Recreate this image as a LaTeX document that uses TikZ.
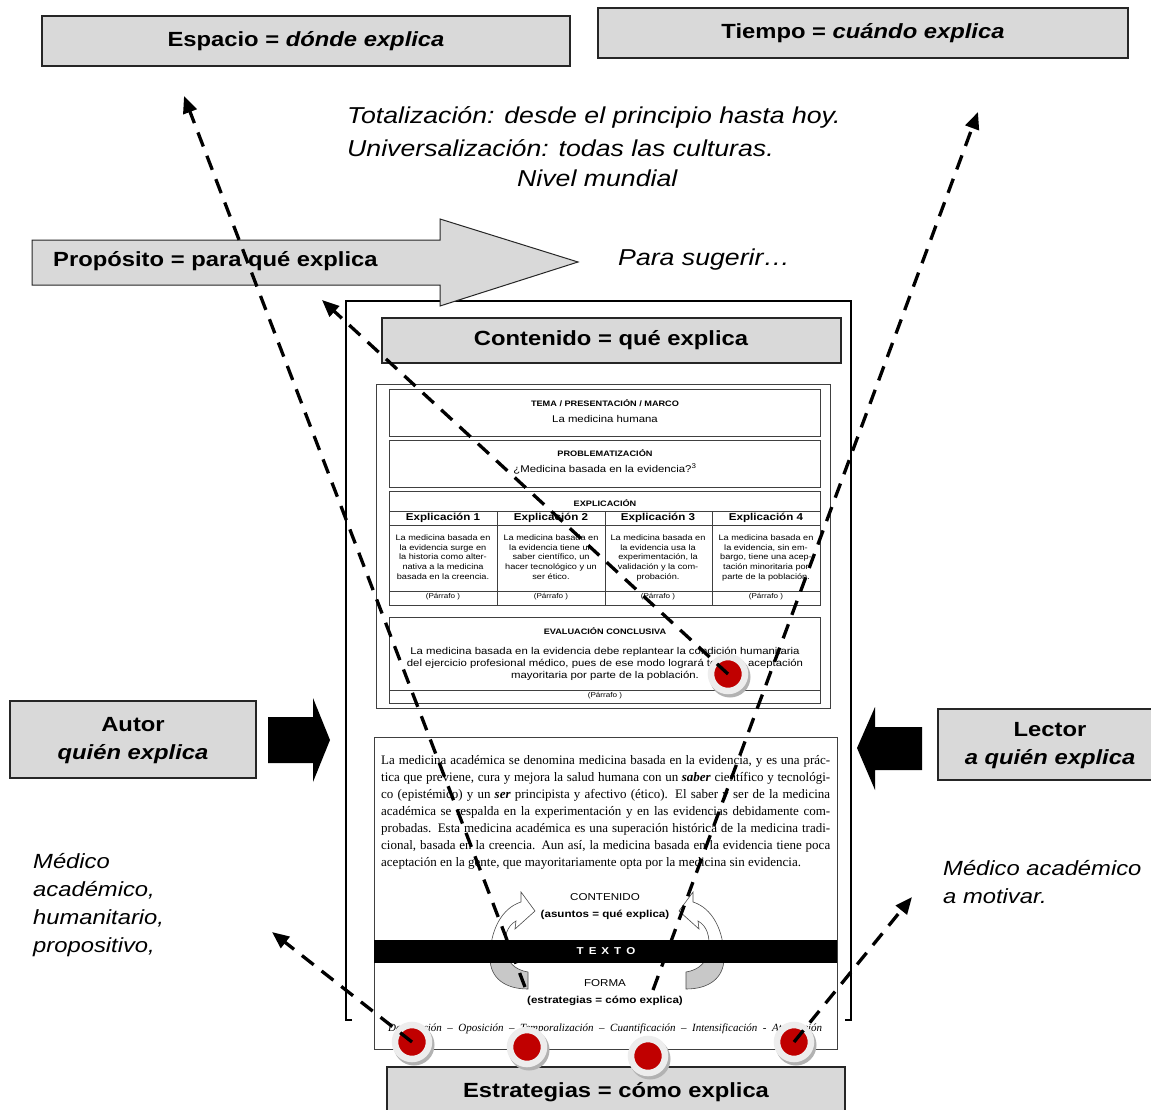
\documentclass[tikz,border=0pt]{standalone}
\usepackage{fontspec}
\setmainfont{Liberation Sans}
\newfontfamily\parafont{Liberation Serif}
\usepackage{graphicx}
\usetikzlibrary{arrows.meta}

\definecolor{boxgray}{HTML}{D9D9D9}
\definecolor{dotred}{HTML}{C00000}
\definecolor{ribbongray}{HTML}{C8C8C8}

% horizontally widened lettering, font size helper, stacked lines
\newcommand\hs[1]{\scalebox{1.16}[1]{#1}}
\newcommand\fsz[2]{\fontsize{#1}{#2}\selectfont}
\newcommand\txtstack[2][c]{\hs{\begin{tabular}{@{}#1@{}}#2\end{tabular}}}
\newcommand\pline[1]{\parafont\fsz{13}{17}\makebox[449pt][s]{#1}}

\begin{document}
\begin{tikzpicture}[x=1pt,y=-1pt,
  graybox/.style={draw=black!85, line width=1.4pt, fill=boxgray, inner sep=0pt},
  bigbold/.style={font=\fsz{20.5}{28}\bfseries},
  remark/.style={font=\fsz{23}{31}\itshape, inner sep=0pt},
  sidenote/.style={font=\fsz{20.5}{28}\itshape, inner sep=0pt},
  cellline/.style={draw=black!75, line width=0.6pt},
  celltext/.style={inner sep=0pt, align=center},
  leader/.style={line width=3.3pt, dash pattern=on 15pt off 10pt,
    -{Triangle[length=17pt,width=14pt]}},
  dot/.style={circle, fill=dotred, draw=black!7, line width=6.5pt,
    minimum size=34pt, inner sep=0pt},
  ribbonpath/.style={insert path={(528,989) .. controls (505,989) and (490,978) .. (490,958)
    .. controls (490,930) and (502,908) .. (521,902) -- (521,892) -- (535,911) -- (515,929)
    -- (516,921) .. controls (507,926) and (504,936) .. (505,950)
    .. controls (507,962) and (515,970) .. (528,972) -- cycle}}
]
\useasboundingbox (0,0) rectangle (1151,1110);
\fill[white] (0,0) rectangle (1151,1110);

% ---- space and time headers
\node[graybox, bigbold, minimum width=528pt, minimum height=50pt] (espacio) at (306,41)
  {\hs{Espacio = \textit{dónde explica}}};
\node[graybox, bigbold, minimum width=530pt, minimum height=50pt] (tiempo) at (863,33)
  {\hs{Tiempo = \textit{cuándo explica}}};

\node[remark, anchor=west] (totalizacion) at (347,117) {\hs{Totalización: desde el principio hasta hoy.}};
\node[remark, anchor=west] (universal) at (347,148) {\hs{Universalización: todas las culturas.}};
\node[remark, anchor=west] (mundial) at (517,178) {\hs{Nivel mundial}};

% ---- page frame
\draw[line width=1.5pt] (352,1020) -- (346,1020) -- (346,301) -- (851,301) -- (851,1020) -- (845,1020);

% ---- purpose arrow
\draw[draw=black!85, line width=1pt, fill=boxgray]
  (32,240) -- (440,240) -- (440,219) -- (578,262) -- (440,306) -- (440,285) -- (32,285) -- cycle;
\node[bigbold, inner sep=0pt, anchor=west] (proposito) at (53,261) {\hs{Propósito = para qué explica}};
\node[remark, anchor=west] (sugerir) at (618,260) {\hs{Para sugerir…}};

% ---- content header
\node[graybox, line width=2pt, font=\fsz{20.5}{24}\bfseries, minimum width=459pt, minimum height=45pt]
  (contenido) at (611,340) {\hs{Contenido = qué explica}};

% ---- schema of the text
\draw[cellline] (376,384) rectangle (830,708);

\draw[cellline] (389,389) rectangle (820,436);
\node[celltext, font=\fsz{7.9}{9}\bfseries] (tematit) at (605,403) {\hs{TEMA / PRESENTACIÓN / MARCO}};
\node[celltext, font=\fsz{9.8}{11}] (tema) at (605,419) {\hs{La medicina humana}};

\draw[cellline] (389,440) rectangle (820,487);
\node[celltext, font=\fsz{7.9}{9}\bfseries] (problemtit) at (605,453) {\hs{PROBLEMATIZACIÓN}};
\node[celltext, font=\fsz{9.8}{11}] (problem) at (605,469) {\hs{¿Medicina basada en la evidencia?\textsuperscript{3}}};

\draw[cellline] (389,491) rectangle (820,605);
\draw[cellline] (389,511) -- (820,511) (389,525) -- (820,525) (389,591) -- (820,591);
\draw[cellline] (497,511) -- (497,605) (605,511) -- (605,605) (712,511) -- (712,605);
\node[celltext, font=\fsz{7.9}{9}\bfseries] (explictit) at (605,503) {\hs{EXPLICACIÓN}};
\foreach \n/\x in {1/443,2/551,3/658,4/766}{
  \node[celltext, font=\fsz{10}{11}\bfseries] (exh\n) at (\x,518) {\hs{Explicación \n}};
  \node[celltext, font=\fsz{7}{8}] (exp\n) at (\x,597) {\hs{(Párrafo )}};
}
\node[celltext, font=\fsz{7.9}{9.7}] (exb1) at (443,558)
  {\txtstack{La medicina basada en\\la evidencia surge en\\la historia como alter-\\nativa a la medicina\\basada en la creencia.}};
\node[celltext, font=\fsz{7.9}{9.7}] (exb2) at (551,558)
  {\txtstack{La medicina basada en\\la evidencia tiene un\\saber científico, un\\hacer tecnológico y un\\ser ético.}};
\node[celltext, font=\fsz{7.9}{9.7}] (exb3) at (658,558)
  {\txtstack{La medicina basada en\\la evidencia usa la\\experimentación, la\\validación y la com-\\probación.}};
\node[celltext, font=\fsz{7.9}{9.7}] (exb4) at (766,558)
  {\txtstack{La medicina basada en\\la evidencia, sin em-\\bargo, tiene una acep-\\tación minoritaria por\\parte de la población.}};

\draw[cellline] (389,617) rectangle (820,703);
\draw[cellline] (389,690) -- (820,690);
\node[celltext, font=\fsz{7.9}{9}\bfseries] (evaltit) at (605,631) {\hs{EVALUACIÓN CONCLUSIVA}};
\node[celltext, font=\fsz{9.8}{12}] (evaltext) at (605,664)
  {\txtstack{La medicina basada en la evidencia debe replantear la condición humanitaria\\del ejercicio profesional médico, pues de ese modo logrará tener la aceptación\\mayoritaria por parte de la población.}};
\node[celltext, font=\fsz{7}{8}] (evalpar) at (605,696) {\hs{(Párrafo )}};

% ---- sample paragraph and text model
\draw[cellline] (374,737) rectangle (837,1049);
\node[anchor=base west, inner sep=0pt] (par1) at (381,764) {\pline{La medicina académica se denomina medicina basada en la evidencia, y es una prác-}};
\node[anchor=base west, inner sep=0pt] (par2) at (381,781) {\pline{tica que previene, cura y mejora la salud humana con un \textbf{\textit{saber}} científico y tecnológi-}};
\node[anchor=base west, inner sep=0pt] (par3) at (381,798) {\pline{co (epistémico) y un \textbf{\textit{ser}} principista y afectivo (ético). El saber y ser de la medicina}};
\node[anchor=base west, inner sep=0pt] (par4) at (381,815) {\pline{académica se respalda en la experimentación y en las evidencias debidamente com-}};
\node[anchor=base west, inner sep=0pt] (par5) at (381,832) {\pline{probadas. Esta medicina académica es una superación histórica de la medicina tradi-}};
\node[anchor=base west, inner sep=0pt] (par6) at (381,849) {\pline{cional, basada en la creencia. Aun así, la medicina basada en la evidencia tiene poca}};
\node[anchor=base west, inner sep=0pt] (par7) at (381,866) {\parafont\fsz{13}{17}aceptación en la gente, que mayoritariamente opta por la medicina sin evidencia.};

\node[celltext, font=\fsz{10}{12}] (contlabel) at (605,897) {\hs{CONTENIDO}};
\node[celltext, font=\fsz{10}{12}\bfseries] (contsub) at (605,915) {\hs{(asuntos = qué explica)}};

% turning arrows around the text band
\fill[ribbongray, ribbonpath];
\begin{scope}
  \clip (470,880) rectangle (545,951);
  \fill[white, ribbonpath];
\end{scope}
\draw[black!70, line width=0.6pt, ribbonpath];
\begin{scope}[xshift=1214pt, xscale=-1]
  \fill[ribbongray, ribbonpath];
  \begin{scope}
    \clip (470,880) rectangle (545,951);
    \fill[white, ribbonpath];
  \end{scope}
  \draw[black!70, line width=0.6pt, ribbonpath];
\end{scope}

\fill[black] (374,940) rectangle (837,963);
\node[celltext, text=white, font=\fsz{10}{12}\bfseries] (texto) at (606,951)
  {\hs{T\hspace{4.3pt}E\hspace{4.3pt}X\hspace{4.3pt}T\hspace{4.3pt}O}};

\node[celltext, font=\fsz{10}{12}] (formalabel) at (605,983) {\hs{FORMA}};
\node[celltext, font=\fsz{10}{12}\bfseries] (formasub) at (605,1001) {\hs{(estrategias = cómo explica)}};
\node[anchor=base west, inner sep=0pt] (strat) at (388,1031)
  {\parafont\itshape\fsz{11}{13}\makebox[434pt][s]{Descripción – Oposición – Temporalización – Cuantificación – Intensificación - Atenuación}};

% ---- strategies header
\node[graybox, bigbold, minimum width=458pt, minimum height=50pt] (estrategias) at (616,1092)
  {\hs{Estrategias = cómo explica}};

% ---- author and reader
\node[graybox, bigbold, minimum width=246pt, minimum height=77pt] (autor) at (133,739.5)
  {\txtstack{Autor\\\textit{quién explica}}};
\fill[black] (268,717) -- (313,717) -- (313,698) -- (330,740) -- (313,782) -- (313,763) -- (268,763) -- cycle;

\node[graybox, bigbold, minimum width=224pt, minimum height=71pt] (lector) at (1050,744.5)
  {\txtstack{Lector\\\textit{a quién explica}}};
\fill[black] (922,727) -- (875,727) -- (875,707) -- (857,748) -- (875,790) -- (875,770) -- (922,770) -- cycle;

\node[sidenote, anchor=north west] (autornote) at (33,849)
  {\txtstack[l]{Médico\\académico,\\humanitario,\\propositivo,}};
\node[sidenote, anchor=north west] (lectornote) at (943,856)
  {\txtstack[l]{Médico académico\\a motivar.}};

% ---- markers
\foreach \n/\x/\y in {d1/412/1042, d2/527/1047, d3/648/1056, d4/794/1042, d5/728/674}{
  \fill[black!30] (\x+2,\y+3) circle[radius=20.5];
  \node[dot] (\n) at (\x,\y) {};
}

% ---- dashed leaders
\coordinate (espaciotip) at (184,96);
\coordinate (tiempotip) at (978,112);
\coordinate (propositotip) at (322,300);
\coordinate (autortip) at (272,932);
\coordinate (lectortip) at (912,897);
\coordinate (espaciostart) at (525,987);
\coordinate (tiempostart) at (653,990);

\draw[leader] (espaciostart) -- (espaciotip);
\draw[leader] (tiempostart) -- (tiempotip);
\draw[leader] (d5.center) -- (propositotip);
\draw[leader] (d1.center) -- (autortip);
\draw[leader] (d4.center) -- (lectortip);
\end{tikzpicture}
\end{document}
